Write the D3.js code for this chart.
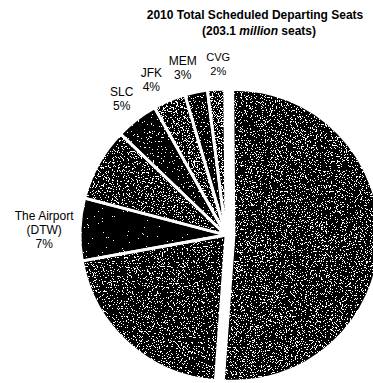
<!DOCTYPE html>
<html>
<head>
<meta charset="utf-8">
<script src="https://cdn.jsdelivr.net/npm/d3@7/dist/d3.min.js"></script>
<style>
  html, body { margin: 0; padding: 0; background: #ffffff; }
  svg { display: block; }
  text { font-family: "Liberation Sans", Arial, sans-serif; fill: #000; }
</style>
</head>
<body>
<script>
// ---- data ----
const categories = ["Other", "ATL", "DTW", "MSP", "SLC", "JFK", "MEM", "CVG"];
const shares     = [51.3, 21.0, 6.9, 8.1, 4.7, 3.6, 2.5, 1.9];
const labelLines = [[], [], ["The Airport", "(DTW)", "7%"], [], ["SLC", "5%"], ["JFK", "4%"], ["MEM", "3%"], ["CVG", "2%"]];
const titleLine1 = "2010 Total Scheduled Departing Seats";
const titleLine2 = ["(203.1 ", "million", " seats)"];

// ---- styles / layout ----
const W = 373, H = 383;
const cx = 226, cy = 235, R = 146;
const fills = ["#464646", "#414141", "#000000", "#444444", "#242424", "#545454", "#323232", "#606060"];
const explode = [8, 0, 0, 0, 0, 0, 0, 0];
const labelNudge = [[0,0],[0,0],[-10,1.5],[0,0],[1,0],[-8,3],[-8,1.5],[4,0.5]];
const labelSize = [12, 12, 12, 12, 12, 12, 12, 11];
const startDeg = -0.5;

const svg = d3.select("body").append("svg").attr("width", W).attr("height", H);

// dither filter (halftone look of the scanned original)
const defs = svg.append("defs");
const f = defs.append("filter").attr("id", "dither")
  .attr("x", "-5%").attr("y", "-5%").attr("width", "110%").attr("height", "110%")
  .attr("color-interpolation-filters", "sRGB");
f.append("feTurbulence").attr("type", "fractalNoise").attr("baseFrequency", 0.8)
  .attr("numOctaves", 2).attr("seed", 7).attr("result", "noise");
f.append("feColorMatrix").attr("in", "noise").attr("type", "matrix")
  .attr("values", "1 0 0 0 0  1 0 0 0 0  1 0 0 0 0  0 0 0 0 1").attr("result", "gray");
f.append("feComposite").attr("in", "SourceGraphic").attr("in2", "gray")
  .attr("operator", "arithmetic").attr("k1", 0).attr("k2", 1).attr("k3", 2).attr("k4", -1)
  .attr("result", "mix");
const ct = f.append("feComponentTransfer").attr("in", "mix").attr("result", "bw");
["feFuncR", "feFuncG", "feFuncB"].forEach(n => ct.append(n).attr("type", "discrete").attr("tableValues", "0 1"));
ct.append("feFuncA").attr("type", "identity");
f.append("feComposite").attr("in", "bw").attr("in2", "SourceAlpha").attr("operator", "in");

// title
const title = svg.append("g").attr("text-anchor", "middle").style("font-weight", "bold").style("font-size", "12px");
title.append("text").attr("x", 255).attr("y", 19).text(titleLine1);
const t2 = title.append("text").attr("x", 259).attr("y", 35);
t2.append("tspan").text(titleLine2[0]);
t2.append("tspan").style("font-style", "italic").text(titleLine2[1]);
t2.append("tspan").text(titleLine2[2]);

const a0 = startDeg * Math.PI / 180;
const pie = d3.pie().sort(null).value(d => d).startAngle(a0).endAngle(a0 + 2 * Math.PI);
const arcs = pie(shares);
const arc = d3.arc().innerRadius(0).outerRadius(R);
const labelArc = d3.arc().innerRadius(172).outerRadius(172);

const g = svg.append("g").attr("transform", `translate(${cx},${cy})`);
const shift = (d, i) => {
  const m = (d.startAngle + d.endAngle) / 2;
  return `translate(${Math.sin(m) * explode[i]},${-Math.cos(m) * explode[i]})`;
};

// textured slices
g.selectAll("path.slice").data(arcs).enter().append("path")
  .attr("class", "slice")
  .attr("d", arc)
  .attr("fill", (d, i) => fills[i])
  .attr("filter", "url(#dither)")
  .attr("transform", shift);

// clean white separators on top
g.selectAll("path.sep").data(arcs).enter().append("path")
  .attr("class", "sep")
  .attr("d", arc)
  .attr("fill", "none")
  .attr("stroke", "#fff")
  .attr("stroke-width", 2.8)
  .attr("stroke-linejoin", "miter")
  .attr("transform", shift);

// labels
const lh = 14;
arcs.forEach((d, i) => {
  const lines = labelLines[i];
  if (!lines.length) return;
  const [lx, ly] = labelArc.centroid(d);
  const x = lx + labelNudge[i][0], y = ly + labelNudge[i][1];
  const fs = labelSize[i];
  const t = g.append("text").attr("text-anchor", "middle").style("font-size", fs + "px");
  lines.forEach((s, k) => {
    t.append("tspan").attr("x", x).attr("y", y + (k - (lines.length - 1) / 2) * lh + fs * 0.36).text(s);
  });
});
</script>
</body>
</html>
